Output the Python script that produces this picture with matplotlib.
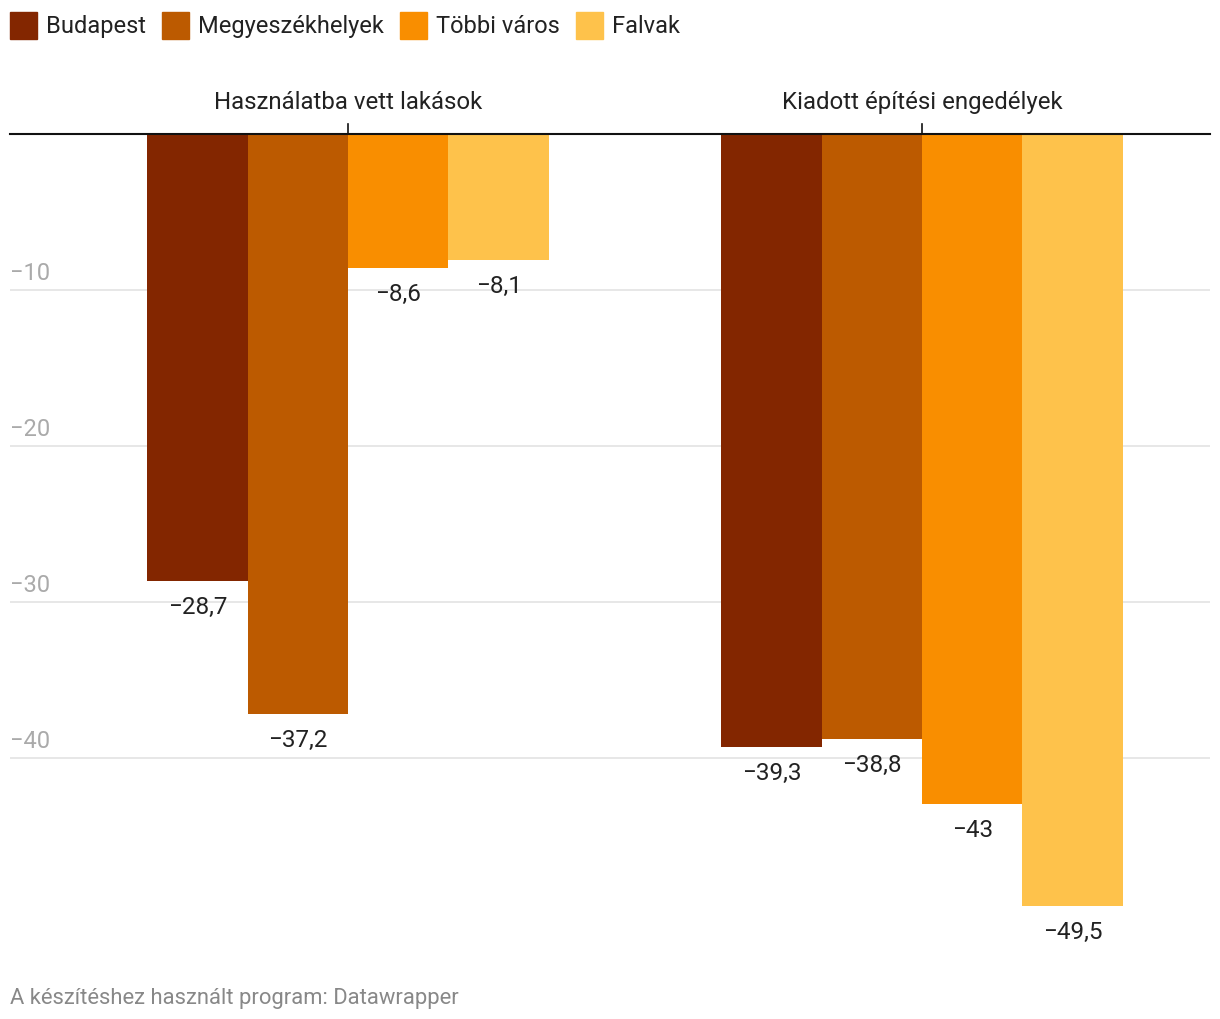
import matplotlib.pyplot as plt
from matplotlib.patches import Rectangle

plt.rcParams['font.family'] = ['Roboto', 'DejaVu Sans']

# data
groups = ['Használatba vett lakások', 'Kiadott építési engedélyek']
series = ['Budapest', 'Megyeszékhelyek', 'Többi város', 'Falvak']
values = {
    'Budapest':        [-28.7, -39.3],
    'Megyeszékhelyek': [-37.2, -38.8],
    'Többi város':     [-8.6, -43.0],
    'Falvak':          [-8.1, -49.5],
}
colors = ['#832600', '#bc5a00', '#f98e00', '#fec24b']
yticks = [-10, -20, -30, -40]

W, H = 1220, 1020
fig = plt.figure(figsize=(W / 100, H / 100), dpi=100)

# axes placed in pixel terms: x 10..1210, zero line at y=133, -52 at the bottom
ymin = -52
px_per_unit = 15.6
top_px = 134.5
bottom_px = top_px + abs(ymin) * px_per_unit
ax = fig.add_axes([10 / W, 1 - bottom_px / H, 1200 / W, (bottom_px - top_px) / H])

bw = 0.175
centers = [0, 1]
ax.set_xlim(-(348 - 10) / 574, 1 + (1210 - 922) / 574)
ax.set_ylim(ymin, 0)

def fmt(v):
    return f'{v:g}'.replace('.', ',').replace('-', '\u2212')

for i, (name, col) in enumerate(zip(series, colors)):
    xs = [c + (i - 1.5) * bw for c in centers]
    ax.bar(xs, values[name], width=bw, color=col, zorder=2, linewidth=0)
    for x, v in zip(xs, values[name]):
        ax.annotate(fmt(v), (x, v), xytext=(0, -18.5), textcoords='offset points',
                    ha='center', va='center', fontsize=17.5, color='#222222', zorder=3)

# gridlines and y labels
for t in yticks:
    ax.axhline(t, color='#e3e3e3', lw=1.2, zorder=1)
    ax.annotate(fmt(t), (0, t), xycoords=('axes fraction', 'data'), xytext=(0, 4),
                textcoords='offset points', ha='left', va='bottom',
                fontsize=17, color='#aaaaaa')

# zero line, group ticks and group labels
ax.axhline(0, color='#111111', lw=1.5, zorder=4, clip_on=False)
for c, g in zip(centers, groups):
    ax.plot([c, c], [0, 10 / px_per_unit], color='#111111', lw=1.2, clip_on=False, zorder=4)
    ax.annotate(g, (c, 0), xytext=(0, 15), textcoords='offset points',
                ha='center', va='bottom', fontsize=17.3, color='#222222')

ax.set_xticks([])
ax.set_yticks([])
for s in ax.spines.values():
    s.set_visible(False)

# legend drawn manually across the top
renderer = fig.canvas.get_renderer()
x = 10
for name, col in zip(series, colors):
    fig.patches.append(Rectangle((x / W, 1 - 40 / H), 27 / W, 27 / H,
                                 transform=fig.transFigure, color=col, figure=fig))
    t = fig.text((x + 36) / W, 1 - 26.5 / H, name, fontsize=17, color='#222222',
                 ha='left', va='center')
    w = t.get_window_extent(renderer).width
    x = x + 36 + w + 16

fig.text(10 / W, 1 - 999 / H, 'A készítéshez használt program: Datawrapper',
         fontsize=15.8, color='#888888', ha='left', va='center')

fig.savefig('out.png', dpi=100)
